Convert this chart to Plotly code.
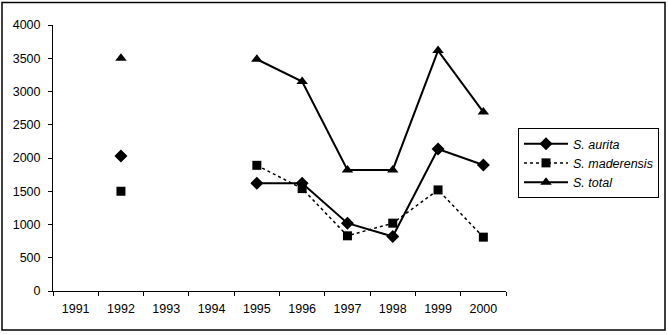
import plotly.graph_objects as go

years = ["1991", "1992", "1993", "1994", "1995", "1996", "1997", "1998", "1999", "2000"]
aurita = [None, 2030, None, None, 1620, 1620, 1020, 820, 2135, 1895]
maderensis = [None, 1500, None, None, 1890, 1540, 830, 1020, 1520, 810]
total = [None, 3500, None, None, 3485, 3150, 1820, 1820, 3615, 2690]
names = ["S. aurita", "S. maderensis", "S. total"]
ytick_vals = [0, 500, 1000, 1500, 2000, 2500, 3000, 3500, 4000]

fig = go.Figure()
fig.add_trace(go.Scatter(x=years, y=aurita, name="<i>" + names[0] + "</i>", mode="lines+markers",
                         line=dict(color="black", width=2),
                         marker=dict(symbol="diamond", size=10, color="black")))
fig.add_trace(go.Scatter(x=years, y=maderensis, name="<i>" + names[1] + "</i>", mode="lines+markers",
                         line=dict(color="black", width=1.5, dash="dot"),
                         marker=dict(symbol="square", size=9, color="black")))
fig.add_trace(go.Scatter(x=years, y=total, name="<i>" + names[2] + "</i>", mode="lines+markers",
                         line=dict(color="black", width=2),
                         marker=dict(symbol="triangle-up", size=10, color="black")))

L, R, T, B = 53, 506, 25, 291
W, H = 668, 335
pw, ph = R - L, B - T

fig.update_layout(
    width=W, height=H,
    margin=dict(l=L, r=W - R, t=T, b=H - B, autoexpand=False),
    paper_bgcolor="white", plot_bgcolor="white",
    font=dict(family="Liberation Sans, Arial, sans-serif", size=12.5, color="black"),
    showlegend=True,
    legend=dict(x=(518 - L) / pw, y=(B - 128) / ph, xanchor="left", yanchor="top",
                bordercolor="black", borderwidth=1, bgcolor="white",
                font=dict(size=12.5), itemwidth=44, tracegroupgap=0),
    xaxis=dict(type="category", range=[-0.5, 9.5], tickson="boundaries",
               ticks="outside", ticklen=4, tickcolor="black", ticklabelstandoff=6,
               showline=True, linecolor="black", linewidth=1, showgrid=False, zeroline=False,
               fixedrange=True, automargin=False),
    yaxis=dict(range=[0, 4000], tickvals=ytick_vals, ticktext=[str(v) for v in ytick_vals],
               ticks="outside", ticklen=4, tickcolor="black", ticklabelstandoff=5,
               showline=True, linecolor="black", linewidth=1, showgrid=False, zeroline=False,
               fixedrange=True, automargin=False),
    shapes=[dict(type="rect", xref="paper", yref="paper",
                 x0=(2 - L) / pw, x1=(665 - L) / pw,
                 y0=(B - 330) / ph, y1=(B - 2.5) / ph,
                 line=dict(color="black", width=1.5), layer="below")],
)

fig.write_html("out.html")
